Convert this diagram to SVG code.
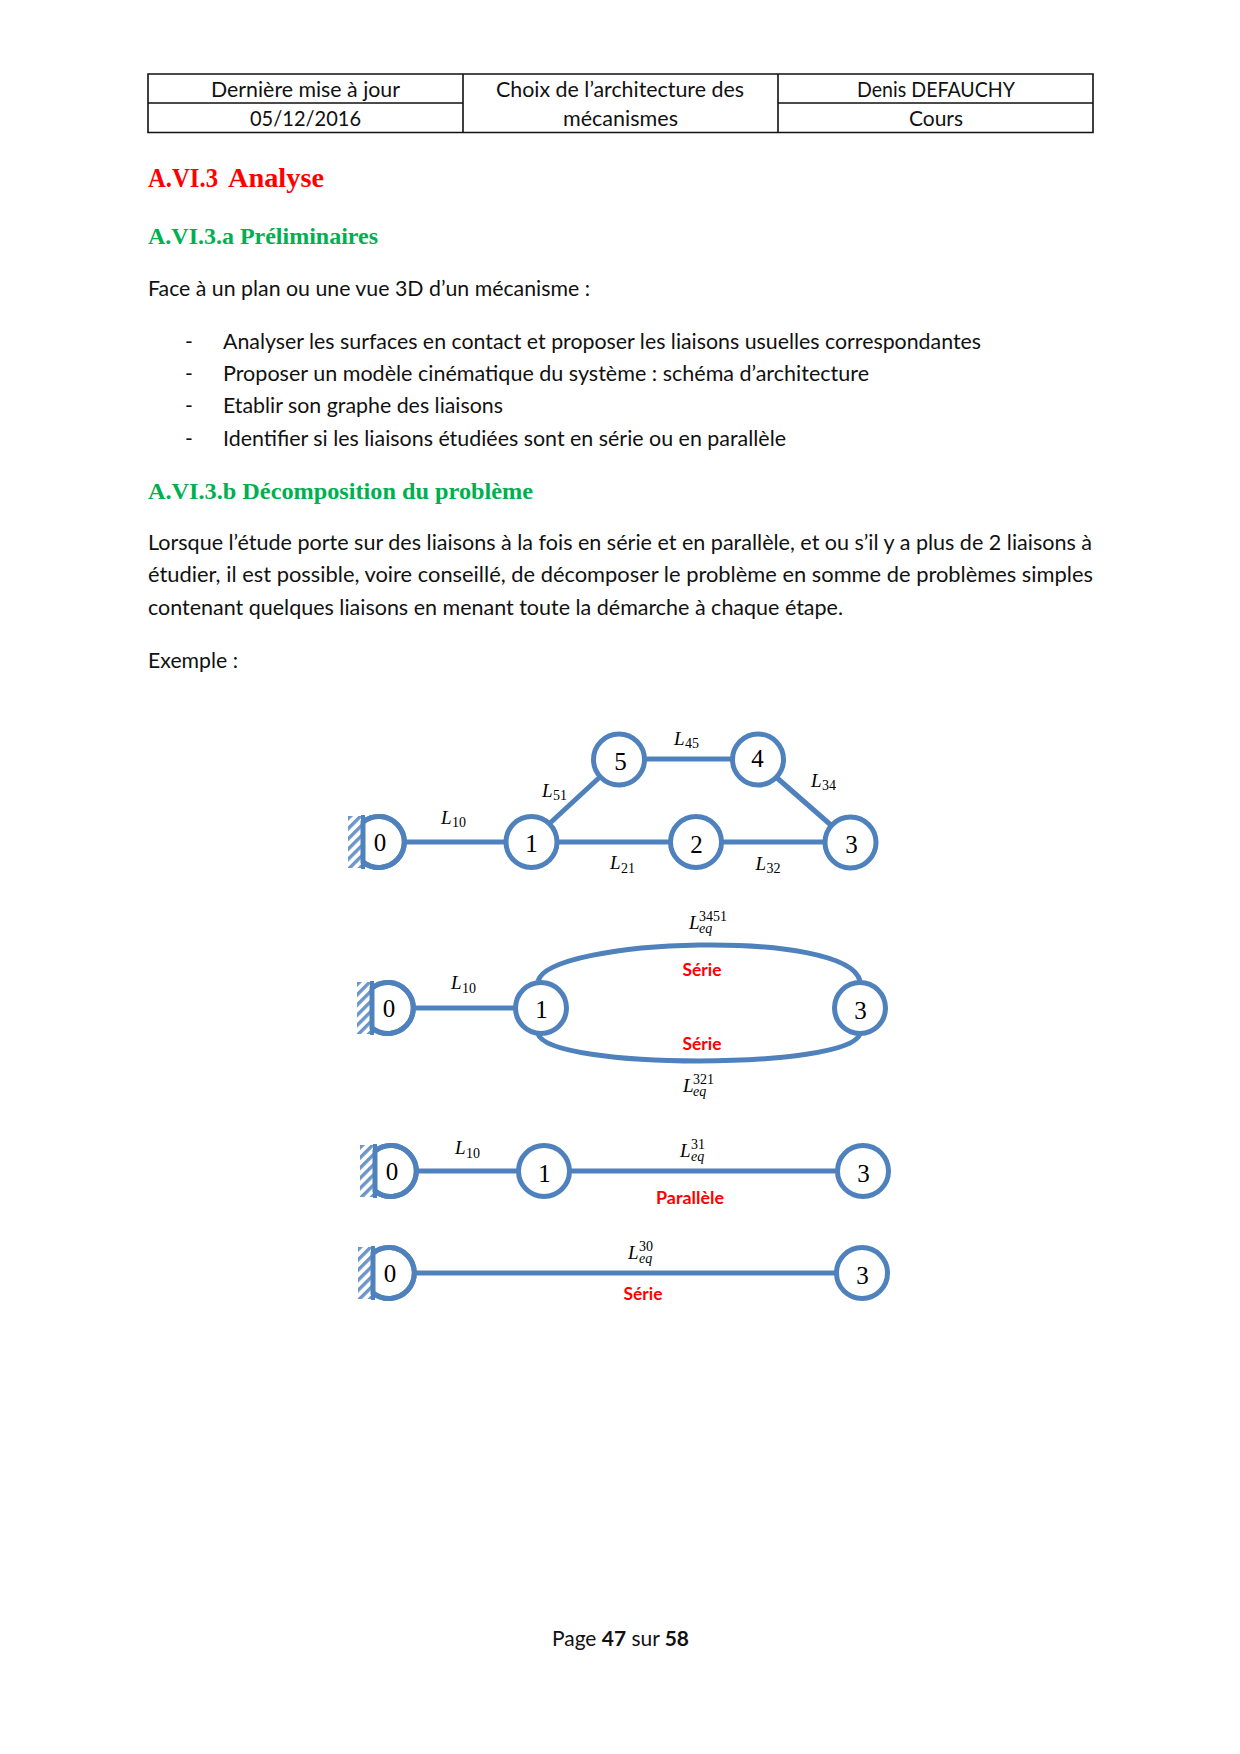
<svg xmlns="http://www.w3.org/2000/svg" width="1240" height="1754" viewBox="0 0 1240 1754">
<style>
.b{font-family:"Lato","Open Sans","Liberation Sans",sans-serif;font-size:21px;fill:#111}
.sb{font-family:"Lato","Open Sans","Liberation Sans",sans-serif;font-size:16.5px;font-weight:700;fill:#f00}
.h1{font-family:"Liberation Serif",serif;font-weight:700;font-size:28px;fill:#f00}
.h2{font-family:"Liberation Serif",serif;font-weight:700;font-size:24px;fill:#00B050}
.n{font-family:"Liberation Serif",serif;font-size:25px;fill:#000;text-anchor:middle}
.m{font-family:"Liberation Serif",serif;font-style:italic;font-size:19px;fill:#000}
.s{font-family:"Liberation Serif",serif;font-size:14px;fill:#000}
.si{font-family:"Liberation Serif",serif;font-style:italic;font-size:14px;fill:#000}
.ln{fill:none;stroke:#4F81BD;stroke-width:5}
.nd{fill:#fff;stroke:#4F81BD;stroke-width:5}
.w{stroke:#4F81BD;stroke-width:4}
.hat{fill:url(#hatch)}
.t{fill:none;stroke:#111;stroke-width:1.6}
</style>
<defs>
<pattern id="hatch" width="7.2" height="7.2" patternUnits="userSpaceOnUse" patternTransform="rotate(-45)">
<rect width="7.2" height="3.4" fill="#6C96C8"/>
</pattern>
<g id="wall"><rect class="hat" x="-15" y="-26" width="15" height="52"/><path class="w" d="M0-27V27"/></g>
</defs>
<rect width="1240" height="1754" fill="#fff"/>
<g id="header">
<path class="t" d="M148 74H1093V132.500H148ZM148 103H463M778 103H1093M463 74V132.500M778 74V132.500"/>
<text class="b" x="211" y="97" textLength="189" lengthAdjust="spacingAndGlyphs">Dernière mise à jour</text>
<text class="b" x="250" y="126" textLength="111" lengthAdjust="spacingAndGlyphs">05/12/2016</text>
<text class="b" x="496" y="97" textLength="248" lengthAdjust="spacingAndGlyphs">Choix de l’architecture des</text>
<text class="b" x="563" y="126" textLength="115" lengthAdjust="spacingAndGlyphs">mécanismes</text>
<text class="b" x="857" y="97" textLength="158" lengthAdjust="spacingAndGlyphs">Denis DEFAUCHY</text>
<text class="b" x="909" y="126" textLength="54" lengthAdjust="spacingAndGlyphs">Cours</text>
</g>
<g id="body">
<text class="h1" x="148" y="187" textLength="70" lengthAdjust="spacingAndGlyphs">A.VI.3</text>
<text class="h1" x="228" y="187" textLength="96" lengthAdjust="spacingAndGlyphs">Analyse</text>
<text class="h2" x="148" y="244" textLength="230" lengthAdjust="spacingAndGlyphs">A.VI.3.a Préliminaires</text>
<text class="b" x="148" y="296" textLength="442" lengthAdjust="spacingAndGlyphs">Face à un plan ou une vue 3D d’un mécanisme :</text>
<text class="b" x="185" y="349">-</text>
<text class="b" x="223" y="349" textLength="758" lengthAdjust="spacingAndGlyphs">Analyser les surfaces en contact et proposer les liaisons usuelles correspondantes</text>
<text class="b" x="185" y="381">-</text>
<text class="b" x="223" y="381" textLength="646" lengthAdjust="spacingAndGlyphs">Proposer un modèle cinématique du système : schéma d’architecture</text>
<text class="b" x="185" y="413">-</text>
<text class="b" x="223" y="413" textLength="280" lengthAdjust="spacingAndGlyphs">Etablir son graphe des liaisons</text>
<text class="b" x="185" y="446">-</text>
<text class="b" x="223" y="446" textLength="563" lengthAdjust="spacingAndGlyphs">Identifier si les liaisons étudiées sont en série ou en parallèle</text>
<text class="h2" x="148" y="499" textLength="385" lengthAdjust="spacingAndGlyphs">A.VI.3.b Décomposition du problème</text>
<text class="b" x="148" y="550" textLength="944" lengthAdjust="spacingAndGlyphs">Lorsque l’étude porte sur des liaisons à la fois en série et en parallèle, et ou s’il y a plus de 2 liaisons à</text>
<text class="b" x="148" y="582" textLength="945" lengthAdjust="spacingAndGlyphs">étudier, il est possible, voire conseillé, de décomposer le problème en somme de problèmes simples</text>
<text class="b" x="148" y="615" textLength="695" lengthAdjust="spacingAndGlyphs">contenant quelques liaisons en menant toute la démarche à chaque étape.</text>
<text class="b" x="148" y="668" textLength="90" lengthAdjust="spacingAndGlyphs">Exemple :</text>
<text class="b" x="552" y="1646" textLength="137" lengthAdjust="spacingAndGlyphs">Page <tspan font-weight="700">47</tspan> sur <tspan font-weight="700">58</tspan></text>
</g>
<g id="connectors">
<path class="ln" d="M402 842H507M555 842H671M719 842H826M549 824L601 776M643 759H734M776 777L832 826"/>
<path class="ln" d="M411 1008H516M538 981C550 938 848 928 860 981M538 1034C550 1070 848 1070 860 1034"/>
<path class="ln" d="M414 1171H519M567 1171H838"/>
<path class="ln" d="M412 1273H837" stroke-width="5.5"/>
</g>
<g id="n0a"><use href="#wall" x="363" y="842"/><path class="nd" d="M363 822A25.500 25.500 0 1 1 363 862Z" stroke="none"/><path class="ln" d="M363 822A25.500 25.500 0 1 1 363 862"/><text class="n" x="380" y="851">0</text></g>
<g id="n1a"><circle class="nd" cx="531.500" cy="842" r="25.500"/><text class="n" x="531.500" y="852">1</text></g>
<g id="n2a"><circle class="nd" cx="696" cy="842" r="25.500"/><text class="n" x="696.500" y="853">2</text></g>
<g id="n3a"><circle class="nd" cx="850.500" cy="842.500" r="25.500"/><text class="n" x="851.500" y="853">3</text></g>
<g id="n5a"><circle class="nd" cx="619" cy="759.500" r="25.500"/><text class="n" x="620.500" y="770">5</text></g>
<g id="n4a"><circle class="nd" cx="758" cy="759.500" r="25.500"/><text class="n" x="757.500" y="767">4</text></g>
<g id="n0b"><use href="#wall" x="372" y="1008"/><path class="nd" d="M372 988A25.500 25.500 0 1 1 372 1028Z" stroke="none"/><path class="ln" d="M372 988A25.500 25.500 0 1 1 372 1028"/><text class="n" x="389" y="1017">0</text></g>
<g id="n1b"><circle class="nd" cx="541" cy="1008" r="25.500"/><text class="n" x="541.500" y="1018">1</text></g>
<g id="n3b"><circle class="nd" cx="860" cy="1008" r="25.500"/><text class="n" x="860.500" y="1019">3</text></g>
<g id="n0c"><use href="#wall" x="375" y="1171"/><path class="nd" d="M375 1151A25.500 25.500 0 1 1 375 1191Z" stroke="none"/><path class="ln" d="M375 1151A25.500 25.500 0 1 1 375 1191"/><text class="n" x="392" y="1180">0</text></g>
<g id="n1c"><circle class="nd" cx="544" cy="1171" r="25.500"/><text class="n" x="544.500" y="1182">1</text></g>
<g id="n3c"><circle class="nd" cx="863" cy="1171" r="25.500"/><text class="n" x="863.500" y="1182">3</text></g>
<g id="n0d"><use href="#wall" x="373" y="1273"/><path class="nd" d="M373 1253A25.500 25.500 0 1 1 373 1293Z" stroke="none"/><path class="ln" d="M373 1253A25.500 25.500 0 1 1 373 1293"/><text class="n" x="390" y="1282">0</text></g>
<g id="n3d"><circle class="nd" cx="862" cy="1273" r="25.500"/><text class="n" x="862.500" y="1284">3</text></g>
<g id="labels">
<text class="m" x="441" y="824">L</text><text class="s" x="452" y="827">10</text>
<text class="m" x="674" y="745">L</text><text class="s" x="685" y="748">45</text>
<text class="m" x="542" y="797">L</text><text class="s" x="553" y="800">51</text>
<text class="m" x="811" y="787">L</text><text class="s" x="822" y="790">34</text>
<text class="m" x="610" y="869">L</text><text class="s" x="621" y="873">21</text>
<text class="m" x="755.500" y="870">L</text><text class="s" x="766.500" y="873">32</text>
<text class="m" x="451" y="989">L</text><text class="s" x="462" y="993">10</text>
<text class="m" x="689" y="929">L</text><text class="s" x="699" y="921">3451</text><text class="si" x="699" y="933">eq</text>
<text class="m" x="683" y="1092">L</text><text class="s" x="693" y="1084">321</text><text class="si" x="693" y="1096">eq</text>
<text class="m" x="455" y="1154">L</text><text class="s" x="466" y="1158">10</text>
<text class="m" x="680" y="1157">L</text><text class="s" x="691" y="1149">31</text><text class="si" x="691" y="1161">eq</text>
<text class="m" x="628" y="1259">L</text><text class="s" x="639" y="1251">30</text><text class="si" x="639" y="1263">eq</text>
<text class="sb" x="682.500" y="976" textLength="39" lengthAdjust="spacingAndGlyphs">Série</text>
<text class="sb" x="682.500" y="1050" textLength="39" lengthAdjust="spacingAndGlyphs">Série</text>
<text class="sb" x="656" y="1204" textLength="68" lengthAdjust="spacingAndGlyphs">Parallèle</text>
<text class="sb" x="623.500" y="1300" textLength="39" lengthAdjust="spacingAndGlyphs">Série</text>
</g>
</svg>
